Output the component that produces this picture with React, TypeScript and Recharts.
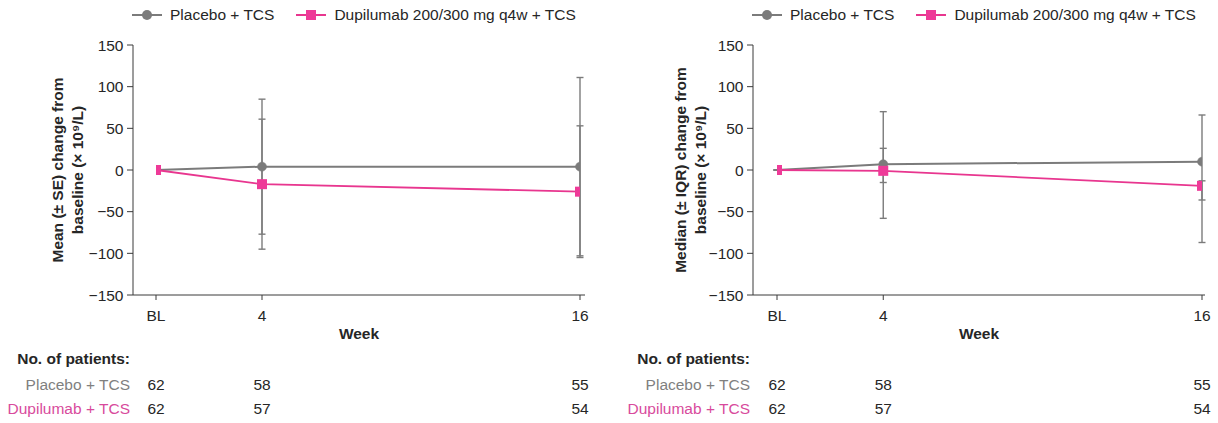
import React from 'react';
import { LineChart, Line, XAxis, YAxis, ErrorBar } from 'recharts';

// Visits (weeks from baseline) and their axis labels
const weeks = [0, 4, 16];
const weekLabels = ['BL', '4', '16'];
const yTicks = [-150, -100, -50, 0, 50, 100, 150];

const seriesNames = ['Placebo + TCS', 'Dupilumab 200/300 mg q4w + TCS'];
const rowLabels = ['Placebo + TCS', 'Dupilumab + TCS'];

// Mean (± SE) change from baseline
const placeboMean = [0, 4, 4];
const placeboSE = [0, 81, 107];
const dupiMean = [0, -17, -26];
const dupiSE = [0, 78, 79];

// Median (IQR) change from baseline
const placeboMedian = [0, 7, 10];
const placeboQ1 = [0, -58, -87];
const placeboQ3 = [0, 70, 66];
const dupiMedian = [0, -1, -19];
const dupiQ1 = [0, -15, -36];
const dupiQ3 = [0, 26, -13];

// Number of patients at each visit
const placeboN = [62, 58, 55];
const dupiN = [62, 57, 54];

const meanData = weeks.map((w, i) => ({
  week: w,
  placebo: placeboMean[i],
  placeboErr: placeboSE[i],
  dupi: dupiMean[i],
  dupiErr: dupiSE[i],
}));

const medianData = weeks.map((w, i) => ({
  week: w,
  placebo: placeboMedian[i],
  placeboErr: [placeboMedian[i] - placeboQ1[i], placeboQ3[i] - placeboMedian[i]],
  dupi: dupiMedian[i],
  dupiErr: [dupiMedian[i] - dupiQ1[i], dupiQ3[i] - dupiMedian[i]],
}));

const FONT = "'Liberation Sans', Arial, sans-serif";
const FS = 15.5;
const TEXT = '#262626';
const AXIS = '#3a3a3a';
const GRAY = '#7b7b7b';
const PINK = '#ee3a98';
const PINK_LINE = '#e8368f';
const PINK_TEXT = '#d84a9c';
const GRAY_TEXT = '#808080';
const H = 423;

const fmtWeek = (v: number) => weekLabels[weeks.indexOf(v)] ?? '';
const fmtY = (v: number) => (v < 0 ? '\u2212' + Math.abs(v) : String(v));
const nAt = (arr: number[]) => (v: number) => {
  const i = weeks.indexOf(v);
  return i >= 0 ? String(arr[i]) : '';
};

const squareDot = (p: any) => (
  <rect key={`sq-${p.index}`} x={p.cx - 5} y={p.cy - 5} width={10} height={10} fill={PINK} />
);

function LegendRow({ left }: { left: number }) {
  return (
    <div
      style={{
        position: 'absolute',
        left,
        top: 5,
        height: 20,
        display: 'flex',
        alignItems: 'center',
        whiteSpace: 'nowrap',
        fontSize: FS,
        color: TEXT,
        fontFamily: FONT,
      }}
    >
      <svg width={30} height={12}>
        <line x1={0} y1={6} x2={30} y2={6} stroke={GRAY} strokeWidth={2} />
        <circle cx={15} cy={6} r={5} fill={GRAY} />
      </svg>
      <span style={{ marginLeft: 8 }}>{seriesNames[0]}</span>
      <svg width={30} height={12} style={{ marginLeft: 22 }}>
        <line x1={0} y1={6} x2={30} y2={6} stroke={PINK_LINE} strokeWidth={2} />
        <rect x={10} y={1} width={10} height={10} fill={PINK} />
      </svg>
      <span style={{ marginLeft: 8 }}>{seriesNames[1]}</span>
    </div>
  );
}

type PanelProps = {
  data: any[];
  left: number;
  width: number;
  marginLeft: number;
  marginRight: number;
  padLeft: number;
  padRight: number;
  yLines: string[];
  yLineX: number[];
  legendLeft: number;
};

function Panel(props: PanelProps) {
  const { data, left, width, marginLeft, marginRight, padLeft, padRight, yLines, yLineX, legendLeft } = props;

  const yLabel = (lp: any) => {
    const vb = lp.viewBox;
    const plotLeft = vb.x + vb.width;
    const cy = vb.y + vb.height / 2;
    return (
      <g>
        {yLines.map((t, i) => {
          const cx = plotLeft + yLineX[i];
          return (
            <text
              key={i}
              x={cx}
              y={cy}
              transform={`rotate(-90, ${cx}, ${cy})`}
              textAnchor="middle"
              dominantBaseline="central"
              fontSize={FS}
              fontWeight="bold"
              fill={TEXT}
            >
              {t}
            </text>
          );
        })}
      </g>
    );
  };

  const weekLabel = (lp: any) => {
    const vb = lp.viewBox;
    return (
      <text x={vb.x + vb.width / 2} y={vb.y + 43.5} textAnchor="middle" fontSize={FS} fontWeight="bold" fill={TEXT}>
        Week
      </text>
    );
  };

  const placeboRow = (lp: any) => {
    const vb = lp.viewBox;
    return (
      <g>
        <text x={vb.x - 3} y={vb.y + 23.5} textAnchor="end" fontSize={FS} fontWeight="bold" fill={TEXT}>
          No. of patients:
        </text>
        <text x={vb.x - 3} y={vb.y + 49.5} textAnchor="end" fontSize={FS} fill={GRAY_TEXT}>
          {rowLabels[0]}
        </text>
      </g>
    );
  };

  const dupiRow = (lp: any) => {
    const vb = lp.viewBox;
    return (
      <text x={vb.x - 3} y={vb.y + 23.5} textAnchor="end" fontSize={FS} fill={PINK_TEXT}>
        {rowLabels[1]}
      </text>
    );
  };

  const common = {
    type: 'number' as const,
    dataKey: 'week',
    domain: [0, 16],
    ticks: weeks,
    allowDataOverflow: true,
    padding: { left: padLeft, right: padRight },
  };

  return (
    <div style={{ position: 'absolute', left, top: 0, width, height: H, fontFamily: FONT }}>
      <LineChart
        width={width}
        height={H}
        data={data}
        margin={{ top: 45, right: marginRight, bottom: 8, left: marginLeft }}
      >
        {/* bottom axes, listed from the outermost (dupilumab N row) inwards */}
        <XAxis
          {...common}
          xAxisId="c_nd"
          height={25}
          axisLine={false}
          tickLine={false}
          tickSize={0}
          tickMargin={12.5}
          tick={{ fontSize: FS, fill: TEXT }}
          tickFormatter={nAt(dupiN)}
          label={dupiRow}
        />
        <XAxis
          {...common}
          xAxisId="b_np"
          height={50}
          axisLine={false}
          tickLine={false}
          tickSize={0}
          tickMargin={38.5}
          tick={{ fontSize: FS, fill: TEXT }}
          tickFormatter={nAt(placeboN)}
          label={placeboRow}
        />
        <XAxis
          {...common}
          xAxisId="a_wk"
          height={45}
          tickSize={5}
          tickMargin={9.5}
          stroke={AXIS}
          tick={{ fontSize: FS, fill: TEXT }}
          tickFormatter={fmtWeek}
          label={weekLabel}
        />
        <YAxis
          type="number"
          domain={[-150, 150]}
          ticks={yTicks}
          width={60}
          tickSize={6}
          tickMargin={3.5}
          stroke={AXIS}
          tick={{ fontSize: FS, fill: TEXT }}
          tickFormatter={fmtY}
          label={yLabel}
        />
        <Line
          xAxisId="a_wk"
          type="linear"
          dataKey="placebo"
          stroke={GRAY}
          strokeWidth={2}
          dot={{ r: 4.5, fill: GRAY, stroke: GRAY, strokeWidth: 0.5 }}
          activeDot={false}
          isAnimationActive={false}
        >
          <ErrorBar dataKey="placeboErr" direction="y" width={3.5} stroke={GRAY} strokeWidth={1.4} isAnimationActive={false} />
        </Line>
        <Line
          xAxisId="a_wk"
          type="linear"
          dataKey="dupi"
          stroke={PINK_LINE}
          strokeWidth={1.8}
          dot={squareDot}
          activeDot={false}
          isAnimationActive={false}
        >
          <ErrorBar dataKey="dupiErr" direction="y" width={3.5} stroke={GRAY} strokeWidth={1.4} isAnimationActive={false} />
        </Line>
      </LineChart>
      <LegendRow left={legendLeft} />
    </div>
  );
}

export default function App() {
  return (
    <div style={{ position: 'absolute', left: 0, top: 0, width: 1218, height: H, background: '#fff' }}>
      <Panel
        data={meanData}
        left={0}
        width={609}
        marginLeft={73}
        marginRight={24}
        padLeft={23}
        padRight={5}
        yLines={['Mean (\u00b1 SE) change from', 'baseline (\u00d7 10\u2079/L)']}
        yLineX={[-76, -56]}
        legendLeft={132}
      />
      <Panel
        data={medianData}
        left={609}
        width={609}
        marginLeft={84}
        marginRight={13}
        padLeft={24}
        padRight={3}
        yLines={['Median (\u00b1 IQR) change from', 'baseline (\u00d7 10\u2079/L)']}
        yLineX={[-73, -53]}
        legendLeft={143}
      />
    </div>
  );
}
